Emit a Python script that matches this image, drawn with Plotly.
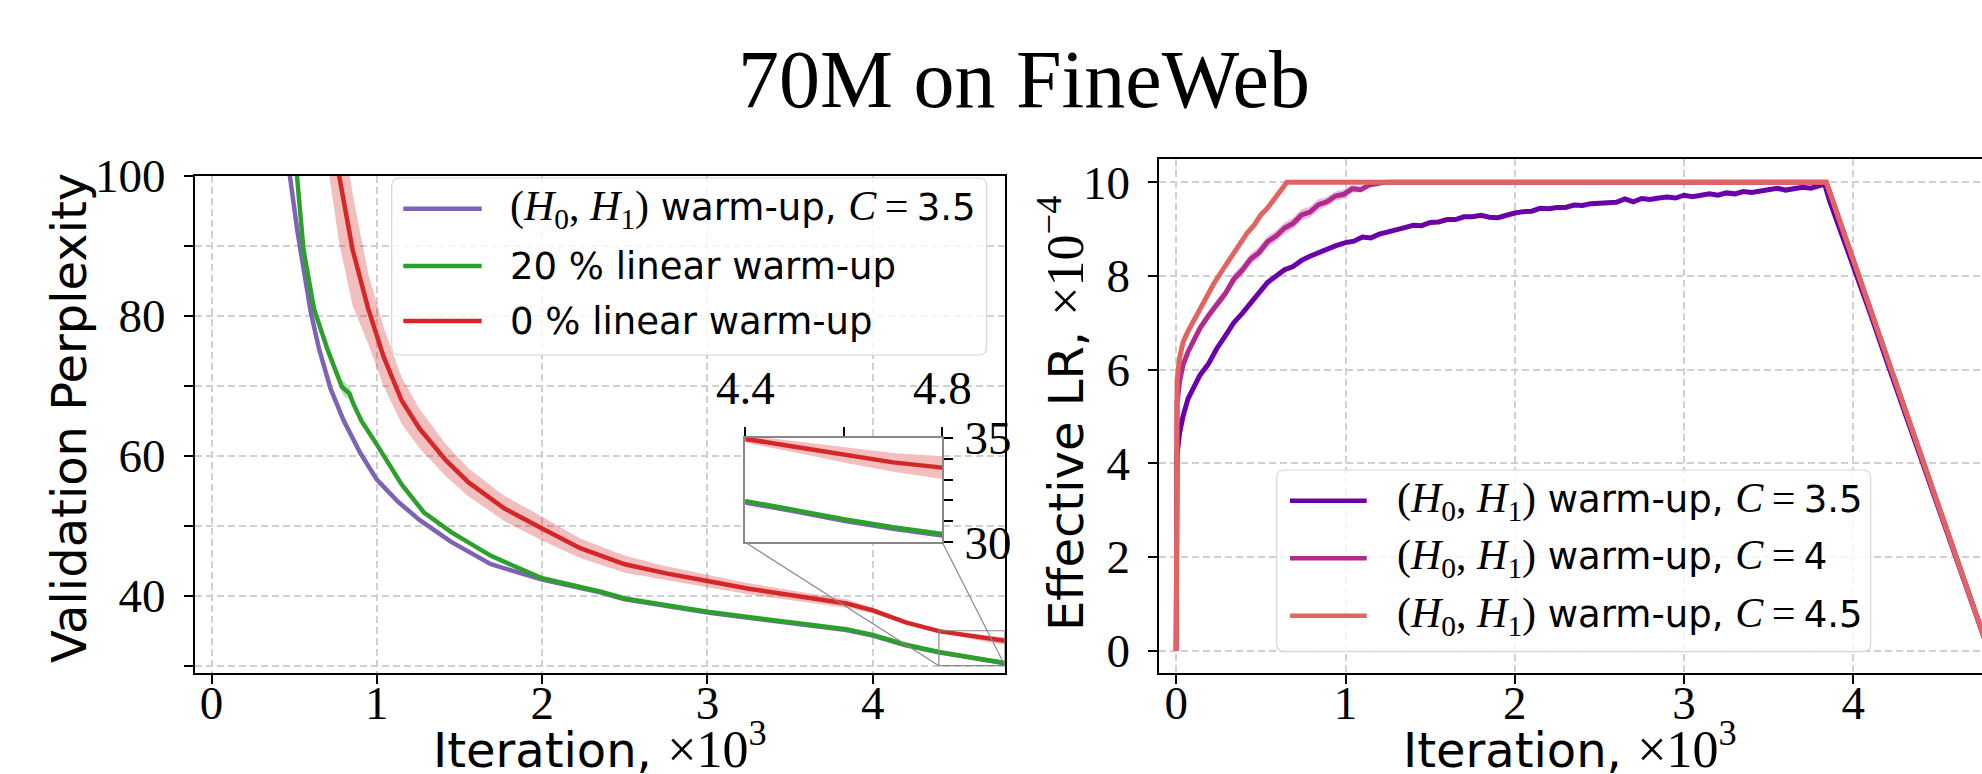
import plotly.graph_objects as go

W, H = 1982, 774

# ---------------- left panel: validation perplexity ----------------
ppl_h0h1_iter = [0.40, 0.474, 0.52, 0.556, 0.60, 0.65, 0.72, 0.80, 0.90, 1.00, 1.13, 1.26, 1.45, 1.69,
                 2.00, 2.35, 2.50, 3.00, 3.50, 3.84, 4.00, 4.20, 4.40, 4.50, 4.60, 4.70, 4.80]
ppl_h0h1 = [116.0, 100.0, 92.0, 86.6, 80.6, 75.3, 69.6, 65.0, 60.4, 56.6, 53.4, 50.8, 47.7, 44.5,
            42.3, 40.5, 39.5, 37.6, 36.2, 35.1, 34.3, 32.9, 31.9, 31.48, 31.03, 30.65, 30.33]

ppl_lin20_iter = [0.48, 0.515, 0.556, 0.62, 0.70, 0.76, 0.79, 0.81, 0.835, 0.855, 0.907, 1.00, 1.15, 1.285,
                  1.45, 1.69, 2.00, 2.35, 2.50, 3.00, 3.50, 3.84, 4.00, 4.20, 4.40, 4.50, 4.60, 4.70, 4.80]
ppl_lin20 = [110.0, 100.0, 89.5, 81.0, 75.3, 71.6, 69.8, 69.4, 68.9, 67.6, 65.0, 61.6, 55.9, 51.9,
             49.1, 45.7, 42.5, 40.6, 39.6, 37.7, 36.3, 35.2, 34.4, 33.0, 31.97, 31.54, 31.1, 30.72, 30.40]
ppl_lin20_sd = [0.3, 0.3, 0.3, 0.3, 0.3, 0.4, 0.9, 1.1, 0.9, 0.5, 0.3, 0.25, 0.2, 0.2,
                0.15, 0.15, 0.12, 0.1, 0.1, 0.1, 0.1, 0.1, 0.1, 0.1, 0.1, 0.1, 0.1, 0.1, 0.1]

ppl_lin0_iter = [0.70, 0.772, 0.853, 0.948, 1.042, 1.15, 1.258, 1.42, 1.555, 1.77, 2.0, 2.23, 2.5,
                 2.75, 3.0, 3.25, 3.5, 3.84, 4.0, 4.2, 4.4, 4.5, 4.6, 4.7, 4.8]
ppl_lin0 = [112.0, 100.0, 89.5, 81.0, 74.1, 67.9, 63.9, 59.3, 56.2, 52.5, 49.6, 46.8, 44.5,
            43.2, 42.1, 41.0, 40.1, 38.9, 37.9, 36.2, 34.94, 34.57, 34.17, 33.82, 33.57]
ppl_lin0_sd = [10.0, 9.5, 8.0, 5.0, 4.2, 3.3, 2.8, 2.3, 2.0, 1.8, 1.7, 1.4, 1.2,
               1.0, 0.9, 0.8, 0.7, 0.6, 0.4, 0.25, 0.18, 0.27, 0.36, 0.45, 0.54]

# ---------------- right panel: effective learning rate (x1e-4) ----------------
lr35_iter = [0.0, 0.005, 0.02, 0.04, 0.07, 0.10, 0.14, 0.19, 0.24, 0.29, 0.34, 0.39, 0.44, 0.49, 0.54,
             0.59, 0.64, 0.69, 0.74, 0.79, 0.84, 0.89, 0.94, 1.00, 1.05, 1.10, 1.15, 1.20, 1.25, 1.30,
             1.35, 1.40, 1.45, 1.50, 1.55, 1.60, 1.65, 1.70, 1.75, 1.80, 1.85, 1.90, 1.95, 2.00, 2.05,
             2.10, 2.15, 2.20, 2.25, 2.30, 2.35, 2.40, 2.45, 2.50, 2.55, 2.60, 2.65, 2.70, 2.75, 2.80,
             2.85, 2.90, 2.95, 3.00, 3.05, 3.10, 3.15, 3.20, 3.25, 3.30, 3.35, 3.40, 3.45, 3.50, 3.55,
             3.60, 3.65, 3.70, 3.75, 3.80, 3.83, 3.86, 3.90, 3.95, 4.00, 4.10, 4.20, 4.80]
lr35 = [0.0, 4.2, 4.65, 5.0, 5.38, 5.58, 5.88, 6.12, 6.45, 6.72, 7.00, 7.20, 7.44, 7.64, 7.86,
        7.99, 8.13, 8.20, 8.33, 8.42, 8.50, 8.57, 8.64, 8.71, 8.74, 8.83, 8.81, 8.89, 8.93, 8.99,
        9.03, 9.08, 9.07, 9.14, 9.15, 9.20, 9.20, 9.26, 9.26, 9.29, 9.25, 9.24, 9.30, 9.34, 9.37,
        9.38, 9.44, 9.43, 9.46, 9.46, 9.51, 9.50, 9.54, 9.55, 9.57, 9.57, 9.64, 9.58, 9.65, 9.63,
        9.66, 9.68, 9.66, 9.72, 9.69, 9.72, 9.75, 9.72, 9.77, 9.75, 9.80, 9.78, 9.81, 9.83, 9.87,
        9.83, 9.86, 9.89, 9.87, 9.93, 9.96, 9.60, 9.20, 8.75, 8.25, 7.20, 6.15, 0.0]

lr4_iter = [0.0, 0.005, 0.02, 0.04, 0.07, 0.10, 0.14, 0.19, 0.24, 0.29, 0.34, 0.39, 0.44, 0.49, 0.54,
            0.59, 0.64, 0.69, 0.74, 0.79, 0.84, 0.89, 0.94, 0.99, 1.04, 1.09, 1.14, 1.19, 1.24, 1.30,
            3.84, 4.80]
lr4 = [0.0, 5.3, 5.75, 6.1, 6.38, 6.62, 6.88, 7.15, 7.40, 7.62, 7.93, 8.12, 8.36, 8.50, 8.73,
       8.85, 9.02, 9.12, 9.30, 9.36, 9.52, 9.58, 9.70, 9.74, 9.86, 9.84, 9.94, 9.97, 10.0, 10.0,
       10.0, 0.0]
lr4_sd = [0.0, 0.05, 0.08, 0.1, 0.1, 0.1, 0.1, 0.1, 0.1, 0.1, 0.12, 0.12, 0.12, 0.12, 0.12,
          0.12, 0.12, 0.12, 0.12, 0.12, 0.12, 0.1, 0.1, 0.1, 0.08, 0.06, 0.04, 0.02, 0.0, 0.0,
          0.0, 0.0]

lr45_iter = [0.0, 0.005, 0.02, 0.04, 0.07, 0.10, 0.14, 0.18, 0.22, 0.26, 0.30, 0.34, 0.38, 0.42,
             0.46, 0.50, 0.54, 0.58, 0.62, 0.654, 3.84, 4.80]
lr45 = [0.0, 5.76, 6.25, 6.58, 6.82, 7.02, 7.30, 7.58, 7.82, 8.05, 8.28, 8.50, 8.70, 8.92,
        9.08, 9.30, 9.45, 9.64, 9.84, 10.0, 10.0, 0.0]

x_ticks = [0, 1, 2, 3, 4]
ppl_ticks = [40, 60, 80, 100]
ppl_minor_ticks = [30, 50, 70, 90]
lr_ticks = [0, 2, 4, 6, 8, 10]
inset_x_ticks = [4.4, 4.8]
inset_x_minor = [4.6]
inset_y_ticks = [30, 35]
inset_y_minor = [31, 32, 33, 34]

legend_left = ["(H0,H1) warm-up, C=3.5", "20 % linear warm-up", "0 % linear warm-up"]

# ---------------- layout geometry (pixels -> paper) ----------------
def fx(p):
    return p / W

def fy(p):
    return 1 - p / H

L_XDOM = [fx(195), fx(1005)]
L_YDOM = [fy(672.7), fy(176)]
R_XDOM = [fx(1159.3), 1.0]
R_YDOM = [fy(672.7), fy(158.7)]
I_XDOM = [fx(745.3), fx(942.3)]
I_YDOM = [fy(542.3), fy(437.7)]

L_XR = [-0.1, 4.8]
L_YR = [29.0, 100.0]
R_XR = [-0.1, 4.76]
R_YR = [-0.47, 10.5]
I_XR = [4.4, 4.8]
I_YR = [30.0, 35.0]

C_PURPLE = '#7e62b5'
C_GREEN = '#2ca02c'
C_RED = '#d62728'
C_35 = '#6a00a8'
C_4 = '#b12a90'
C_45 = '#e16462'

fig = go.Figure()


def add_band(xs, ys, sd, color, xa, ya):
    up = [y + s for y, s in zip(ys, sd)]
    lo = [y - s for y, s in zip(ys, sd)]
    fig.add_trace(go.Scatter(x=list(xs) + list(xs)[::-1], y=up + lo[::-1], fill='toself',
                             fillcolor=color, line=dict(width=0), mode='lines',
                             hoverinfo='skip', showlegend=False, xaxis=xa, yaxis=ya))


def add_line(xs, ys, color, width, xa, ya):
    fig.add_trace(go.Scatter(x=xs, y=ys, mode='lines', line=dict(color=color, width=width),
                             showlegend=False, xaxis=xa, yaxis=ya))


def left_series(xa, ya):
    add_line(ppl_h0h1_iter, ppl_h0h1, C_PURPLE, 4.5, xa, ya)
    add_band(ppl_lin20_iter, ppl_lin20, ppl_lin20_sd, 'rgba(44,160,44,0.3)', xa, ya)
    add_line(ppl_lin20_iter, ppl_lin20, C_GREEN, 4.5, xa, ya)
    add_band(ppl_lin0_iter, ppl_lin0, ppl_lin0_sd, 'rgba(214,39,40,0.3)', xa, ya)
    add_line(ppl_lin0_iter, ppl_lin0, C_RED, 4.5, xa, ya)


# main left
left_series('x', 'y')

# right
add_line(lr35_iter, lr35, C_35, 5, 'x2', 'y2')
add_band(lr4_iter, lr4, lr4_sd, 'rgba(177,42,144,0.3)', 'x2', 'y2')
add_line(lr4_iter, lr4, C_4, 5, 'x2', 'y2')
add_line(lr45_iter, lr45, C_45, 5, 'x2', 'y2')

# inset: opaque background then same series
fig.add_trace(go.Scatter(x=[I_XR[0], I_XR[1], I_XR[1], I_XR[0]], y=[I_YR[0], I_YR[0], I_YR[1], I_YR[1]],
                         fill='toself', fillcolor='white', line=dict(width=0), mode='lines',
                         hoverinfo='skip', showlegend=False, xaxis='x3', yaxis='y3'))
left_series('x3', 'y3')

TICKFONT = dict(family='Liberation Serif', size=47, color='black')
GRID = dict(showgrid=True, gridcolor='#d0d0d0', gridwidth=1.5, griddash='7px,4px')
AX = dict(ticks='outside', ticklen=9, tickwidth=2, tickcolor='black', tickfont=TICKFONT,
          showline=True, linecolor='black', linewidth=2, zeroline=False, automargin=False)

fig.update_layout(
    width=W, height=H, margin=dict(l=0, r=0, t=0, b=0, pad=0, autoexpand=False),
    paper_bgcolor='white', plot_bgcolor='white', showlegend=False,
    xaxis=dict(domain=L_XDOM, range=L_XR, anchor='y', tickvals=x_ticks, mirror=True,
               ticklabelstandoff=-21, **AX, **GRID),
    yaxis=dict(domain=L_YDOM, range=L_YR, anchor='x', tickvals=ppl_ticks, mirror=True,
               ticklabelstandoff=9,
               minor=dict(tickvals=ppl_minor_ticks, ticks='outside', ticklen=9, tickwidth=2,
                          tickcolor='black', showgrid=True, gridcolor='#d0d0d0', gridwidth=1.5,
                          griddash='7px,4px'),
               **AX, **GRID),
    xaxis2=dict(domain=R_XDOM, range=R_XR, anchor='y2', tickvals=x_ticks, mirror=True,
                ticklabelstandoff=-21, **AX, **GRID),
    yaxis2=dict(domain=R_YDOM, range=R_YR, anchor='x2', tickvals=lr_ticks, mirror=False,
                ticklabelstandoff=9, **AX, **GRID),
    xaxis3=dict(domain=I_XDOM, range=I_XR, anchor='y3', side='top', tickvals=inset_x_ticks,
                ticktext=['4.4', '4.8'], ticks='outside', ticklen=9, tickwidth=2, tickcolor='black',
                tickfont=TICKFONT, showline=True, linecolor='#888888', linewidth=1.5, mirror=True,
                showgrid=False, zeroline=False, automargin=False, ticklabelstandoff=4,
                minor=dict(tickvals=inset_x_minor, ticks='outside', ticklen=9, tickwidth=2,
                           tickcolor='black', showgrid=False)),
    yaxis3=dict(domain=I_YDOM, range=I_YR, anchor='x3', side='right', tickvals=inset_y_ticks,
                ticks='outside', ticklen=9, tickwidth=2, tickcolor='black',
                tickfont=TICKFONT, showline=True, linecolor='#888888', linewidth=1.5, mirror=True,
                showgrid=False, zeroline=False, automargin=False, ticklabelstandoff=2,
                minor=dict(tickvals=inset_y_minor, ticks='outside', ticklen=9, tickwidth=2,
                           tickcolor='black', showgrid=False)),
)


# zoom indicator and connectors (mark_inset style)
def data_to_paper(v, dom, rng):
    return dom[0] + (v - rng[0]) / (rng[1] - rng[0]) * (dom[1] - dom[0])


shapes = []
shapes.append(dict(type='rect', xref='x', yref='y', x0=I_XR[0], x1=I_XR[1], y0=I_YR[0], y1=I_YR[1],
                   line=dict(color='#888888', width=1.2)))
for xv in I_XR:
    shapes.append(dict(type='line', xref='paper', yref='paper',
                       x0=data_to_paper(xv, I_XDOM, I_XR), y0=data_to_paper(I_YR[0], I_YDOM, I_YR),
                       x1=data_to_paper(xv, L_XDOM, L_XR), y1=data_to_paper(I_YR[0], L_YDOM, L_YR),
                       line=dict(color='#888888', width=1.2)))


def rounded_box(x0, y0, x1, y1, r):
    def P(a, b):
        return f"{fx(a):.6f},{fy(b):.6f}"
    return (f"M{P(x0 + r, y0)} L{P(x1 - r, y0)} Q{P(x1, y0)} {P(x1, y0 + r)} "
            f"L{P(x1, y1 - r)} Q{P(x1, y1)} {P(x1 - r, y1)} L{P(x0 + r, y1)} "
            f"Q{P(x0, y1)} {P(x0, y1 - r)} L{P(x0, y0 + r)} Q{P(x0, y0)} {P(x0 + r, y0)} Z")


SERIF = "font-family:Liberation Serif;font-size:42px"


def h_label(cval):
    return (f"<span style='{SERIF}'>(<i>H</i><sub>0</sub>, <i>H</i><sub>1</sub>)</span> warm-up, "
            f"<span style='{SERIF}'><i>C</i>\u2009=\u2009</span>{cval}")


legends = [
    dict(box=(391.7, 178, 986.7, 355), line_x=(403.3, 481.7), text_x=511, rows=[208.7, 266, 321],
         items=[(C_PURPLE, h_label('3.5')), (C_GREEN, legend_left[1]), (C_RED, legend_left[2])]),
    dict(box=(1276.7, 470, 1870.7, 651.7), line_x=(1290, 1366.7), text_x=1398, rows=[500.8, 558.3, 615.8],
         items=[(C_35, h_label('3.5')), (C_4, h_label('4')), (C_45, h_label('4.5'))]),
]

annotations = []
for lg in legends:
    bx0, by0, bx1, by1 = lg['box']
    shapes.append(dict(type='path', xref='paper', yref='paper', path=rounded_box(bx0, by0, bx1, by1, 8),
                       fillcolor='rgba(255,255,255,0.8)', line=dict(color='#d6d6d6', width=1.2)))
    for (col, txt), ry in zip(lg['items'], lg['rows']):
        shapes.append(dict(type='line', xref='paper', yref='paper', x0=fx(lg['line_x'][0]), x1=fx(lg['line_x'][1]),
                           y0=fy(ry), y1=fy(ry), line=dict(color=col, width=4.5)))
        annotations.append(dict(xref='paper', yref='paper', x=fx(lg['text_x'] - 3), y=fy(ry), text=txt,
                                showarrow=False, xanchor='left', yanchor='middle',
                                font=dict(family='DejaVu Sans', size=37, color='black')))

SANS = dict(family='DejaVu Sans', size=48, color='black')
XT = "Iteration, <span style='font-family:Liberation Serif;font-size:52px'>\u00d710<sup>3</sup></span>"
annotations += [
    dict(xref='paper', yref='paper', x=fx(1024), y=fy(79), text='70M on FineWeb', showarrow=False,
         xanchor='center', yanchor='middle', font=dict(family='Liberation Serif', size=82, color='black')),
    dict(xref='paper', yref='paper', x=fx(69), y=fy(418), text='Validation Perplexity', showarrow=False,
         textangle=-90, xanchor='center', yanchor='middle', font=SANS),
    dict(xref='paper', yref='paper', x=fx(1062), y=fy(414),
         text="Effective LR, <span style='font-family:Liberation Serif;font-size:52px'>\u00d710<sup>\u22124</sup></span>",
         showarrow=False, textangle=-90, xanchor='center', yanchor='middle', font=SANS),
    dict(xref='paper', yref='paper', x=fx(600), y=fy(745), text=XT,
         showarrow=False, xanchor='center', yanchor='middle', font=SANS),
    dict(xref='paper', yref='paper', x=fx(1570), y=fy(745), text=XT,
         showarrow=False, xanchor='center', yanchor='middle', font=SANS),
]

fig.update_layout(shapes=shapes, annotations=annotations)
fig.write_html("out.html")
